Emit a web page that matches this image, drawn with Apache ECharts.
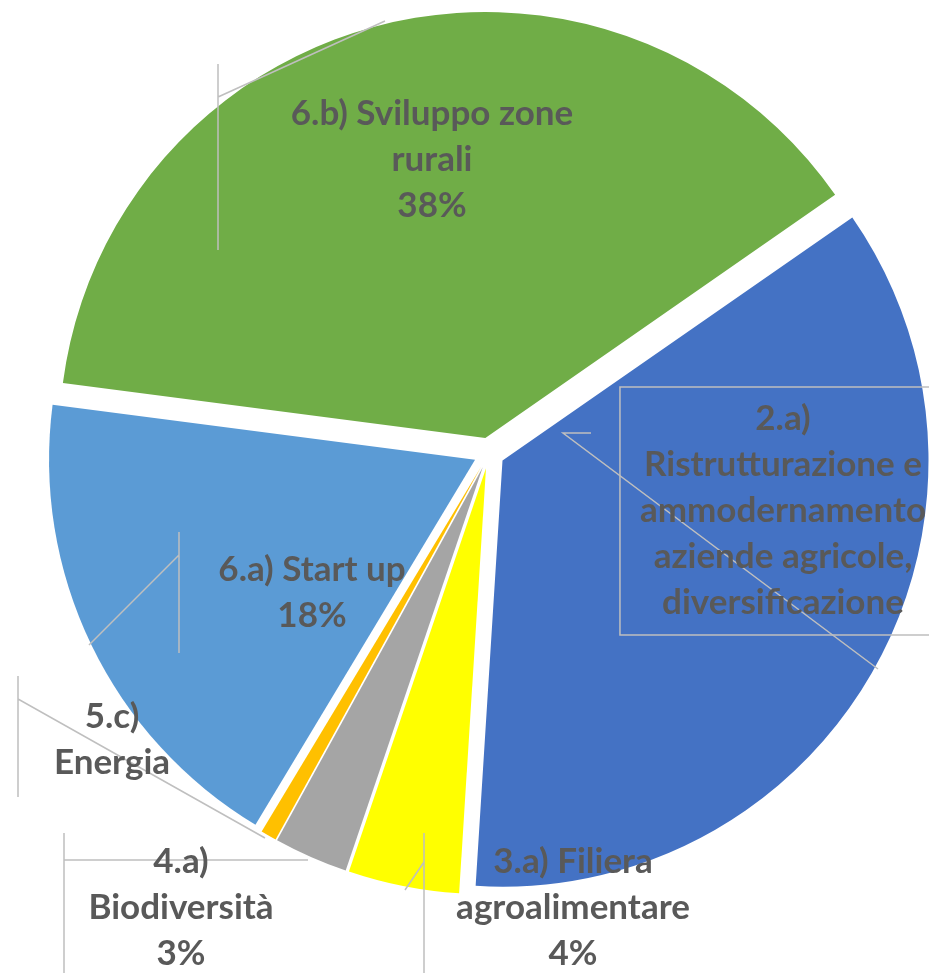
<!DOCTYPE html>
<html lang="it">
<head>
<meta charset="UTF-8">
<title>Ripartizione misure</title>
<script src="https://cdn.jsdelivr.net/npm/echarts@6/dist/echarts.min.js"></script>
<style>html,body{margin:0;padding:0;background:#fff;}</style>
</head>
<body>
<div id="main" style="width:929px;height:973px"></div>
<script>
var categories = [
	'2.a)\nRistrutturazione e\nammodernamento\naziende agricole,\ndiversificazione',
	'3.a) Filiera\nagroalimentare',
	'4.a)\nBiodiversità',
	'5.c)\nEnergia',
	'6.a) Start up',
	'6.b) Sviluppo zone\nrurali'
];
var values = [35.6, 4.2, 2.8, 0.6, 18.4, 38.2];
var showPercent = [false, true, true, false, true, true];
var colors = ['#4472C4', '#FFFF00', '#A5A5A5', '#FFC000', '#5B9BD5', '#70AD47'];

// where each label sits (centre) and its leader line, as in the original
var labelPos = [[783, 511], [573, 908], [181, 908], [112, 740], [312, 593], [432, 160]];
var leaderLines = [
	[[591, 433], [563, 433], [878, 669]],
	[[405, 890], [424, 862], [424, 833], [424, 973]],
	[[308, 860], [64, 860], [64, 833], [64, 973]],
	[[265, 838], [18, 699], [18, 676], [18, 797]],
	[[89, 645], [179, 555], [179, 532], [179, 653]],
	[[385, 21], [218, 97], [218, 64], [218, 250]]
];

var chart = echarts.init(document.getElementById('main'));

// exploded slices
var sliceData = values.map(function (v, i) {
	return {name: categories[i], value: v, selected: true, itemStyle: {color: colors[i]}};
});
// same values again, invisible, only to carry the labels
// (selected pie labels ignore labelLayout x/y)
var labelData = values.map(function (v, i) {
	var item = {name: categories[i], value: v};
	if (i === 0) {//box around the long label
		item.label = {borderColor: '#BFBFBF', borderWidth: 1.5, padding: [9, 20]};
	}
	return item;
});

var pieCenter = [489, 453];
var pieRadius = 426;
var firstAngle = 34.8;

var option = {
	animation: false,
	series: [
		{
			type: 'pie',
			z: 2,
			center: pieCenter,
			radius: pieRadius,
			startAngle: firstAngle,
			clockwise: true,
			selectedMode: 'multiple',
			selectedOffset: 15.5,
			silent: true,
			emphasis: {disabled: true},
			itemStyle: {borderWidth: 0},
			label: {show: false},
			labelLine: {show: false},
			data: sliceData
		},
		{
			type: 'pie',
			z: 5,
			center: pieCenter,
			radius: pieRadius,
			startAngle: firstAngle,
			clockwise: true,
			silent: true,
			avoidLabelOverlap: false,
			emphasis: {disabled: true},
			itemStyle: {color: 'rgba(0,0,0,0)', borderWidth: 0},
			label: {
				show: true,
				position: 'outside',
				color: '#595959',
				fontFamily: 'Lato',
				fontWeight: 'bold',
				fontSize: 35,
				lineHeight: 46,
				align: 'center',
				formatter: function (p) {
					var t = p.name;
					if (showPercent[p.dataIndex]) t += '\n' + Math.round(p.percent) + '%';
					return t;
				}
			},
			labelLine: {
				show: true,
				lineStyle: {color: '#BFBFBF', width: 1.5}
			},
			labelLayout: function (p) {
				var pos = labelPos[p.dataIndex];
				return {
					x: pos[0],
					y: pos[1],
					align: 'center',
					verticalAlign: 'middle',
					labelLinePoints: leaderLines[p.dataIndex]
				};
			},
			data: labelData
		}
	]
};
chart.setOption(option);
</script>
</body>
</html>
